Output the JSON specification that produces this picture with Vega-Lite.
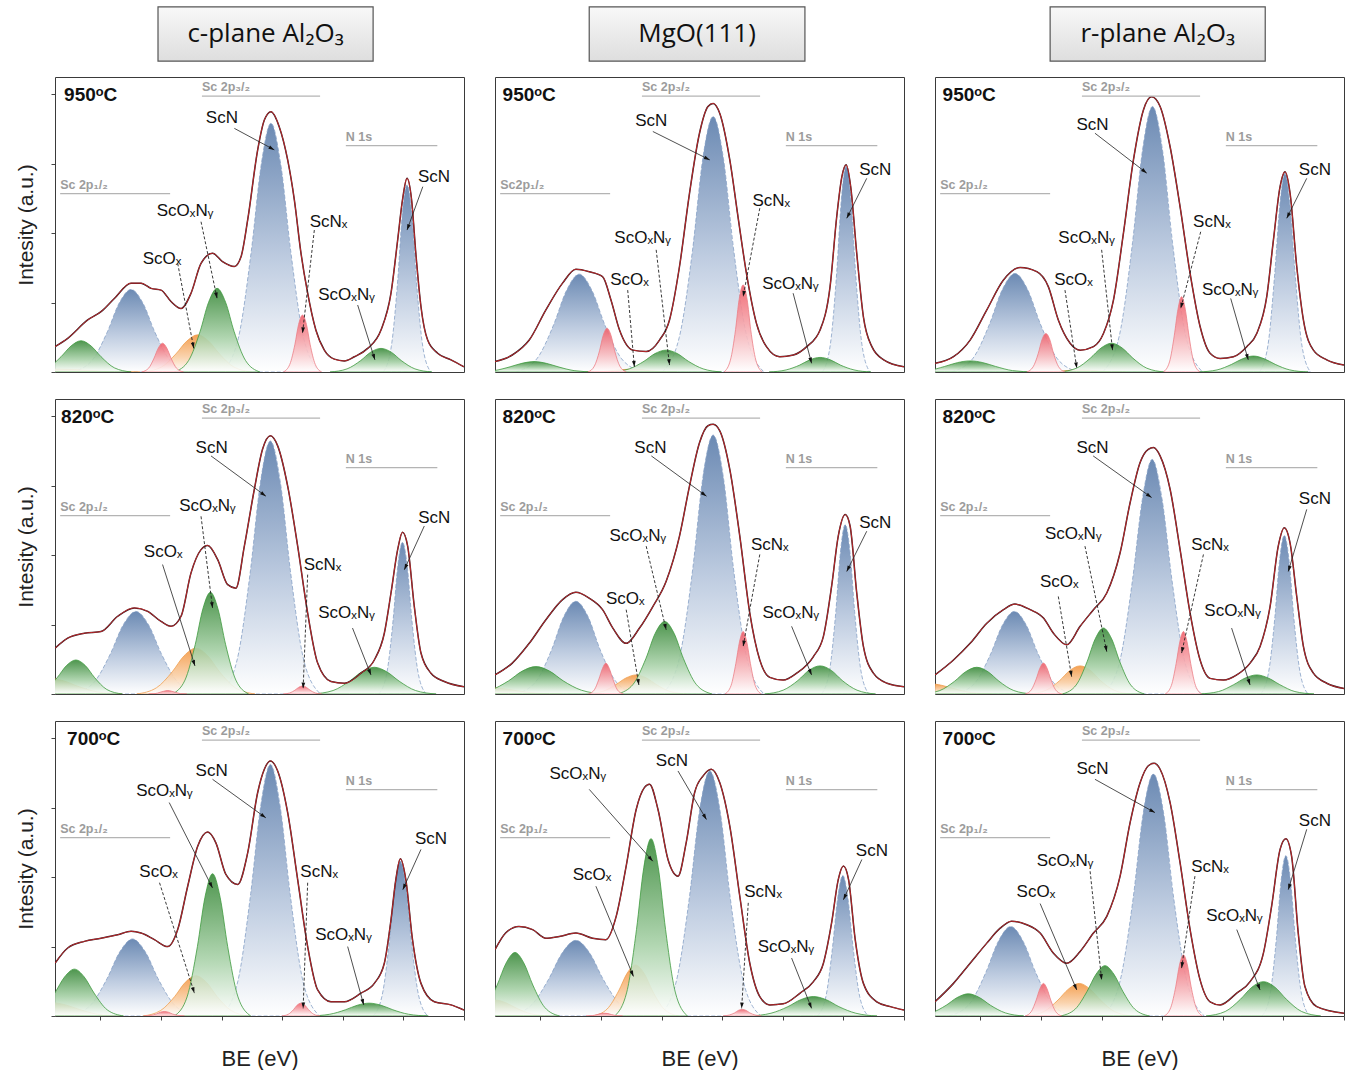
{
"$schema":"https://vega.github.io/schema/vega-lite/v6.json",
"padding":{"left":15,"top":5,"right":2,"bottom":1},
"config":{"view":{"stroke":"#3a3a3a","strokeWidth":1},"axis":{"grid":false,"domain":false,"tickColor":"#444","tickWidth":1,"tickSize":4}},
"data":{"values":[
{"r":1,"c":1,"k":"e","xs":[408,407.58,406.92,406.48,406.04,405.49,405.16,404.83,404.5,404.17,403.84,403.51,403.18,402.8,402.47,402.08,401.86,401.64,401.31,401.09,400.87,400.6,400.32,400.1,399.88,399.66,399.39,399.11,398.78,398.45,398.12,397.68,397.24,396.91,396.69,396.53,396.38,396.23,396.09,395.92,395.7,395.37,394.93,394.5],"ys":[0.73,0.97,1.5,1.74,2.12,2.56,2.56,2.41,2.36,2.03,1.83,2.27,3.13,3.42,3.18,3.04,3.32,4.38,6.4,7.26,7.5,7.07,6.11,4.96,3.42,2.27,1.21,0.63,0.37,0.32,0.44,0.68,1.21,2.27,3.8,4.96,5.58,4.96,3.42,1.88,0.92,0.54,0.35,0.15]},
{"r":1,"c":2,"k":"e","xs":[408,407.43,406.87,406.32,405.77,405.33,404.89,404.45,404.17,403.89,403.45,403.01,402.57,402.24,401.91,401.58,401.25,400.97,400.8,400.58,400.25,399.98,399.7,399.37,399.04,398.6,398.15,397.71,397.27,396.94,396.72,396.55,396.41,396.26,396.06,395.84,395.56,395.17,394.5],"ys":[0.3,0.49,0.92,1.79,2.56,2.96,2.89,2.75,2.07,1.21,0.63,0.59,0.92,1.5,3.04,5.15,6.88,7.65,7.74,7.45,6.11,4.48,2.84,1.4,0.73,0.44,0.49,0.73,1.21,2.46,4.48,5.63,5.97,5.34,3.42,1.59,0.73,0.35,0.15]},
{"r":1,"c":3,"k":"e","xs":[408,407.39,406.84,406.29,405.74,405.19,404.64,404.26,403.93,403.54,403.21,402.77,402.44,402.11,401.78,401.45,401.12,400.85,400.57,400.24,399.91,399.58,399.25,398.92,398.59,398.15,397.71,397.38,397.05,396.83,396.61,396.45,396.28,396.06,395.84,395.51,395.07,394.5],"ys":[0.25,0.44,0.92,1.79,2.65,3.01,2.89,2.46,1.5,0.83,0.63,0.73,1.11,2.07,4.0,6.11,7.55,7.93,7.65,6.49,4.76,2.84,1.31,0.54,0.39,0.44,0.73,1.11,2.17,3.8,5.34,5.77,5.15,3.04,1.5,0.63,0.35,0.2]},
{"r":2,"c":1,"k":"e","xs":[408,407.58,407.03,406.48,405.93,405.38,404.94,404.5,404.17,403.84,403.51,403.18,402.96,402.63,402.3,402.03,401.75,401.42,401.15,400.89,400.65,400.32,399.99,399.66,399.33,398.89,398.45,397.9,397.46,397.13,396.91,396.69,396.53,396.36,396.14,395.92,395.59,395.15,394.5],"ys":[1.32,1.61,1.75,1.8,2.24,2.48,2.38,2.09,1.95,2.24,3.49,4.16,4.28,3.87,3.15,3.05,4.26,5.9,7.05,7.44,7.15,5.99,4.26,2.33,0.89,0.36,0.31,0.6,0.98,1.75,2.91,4.16,4.66,4.26,2.52,1.18,0.6,0.36,0.21]},
{"r":2,"c":2,"k":"e","xs":[408,407.43,406.87,406.32,405.77,405.33,404.89,404.45,404.11,403.67,403.23,402.79,402.35,401.91,401.58,401.25,400.97,400.8,400.58,400.25,399.92,399.59,399.26,398.93,398.49,398.04,397.49,397.16,396.89,396.67,396.44,396.28,396.06,395.84,395.51,395.06,394.5],"ys":[0.55,0.89,1.46,2.14,2.72,2.93,2.76,2.43,1.9,1.46,1.9,2.52,3.25,4.55,5.99,7.24,7.73,7.77,7.58,6.47,4.55,2.33,0.98,0.48,0.4,0.6,1.08,1.66,3.1,4.55,5.17,4.84,2.91,1.37,0.6,0.31,0.21]},
{"r":2,"c":3,"k":"e","xs":[408,407.39,406.84,406.29,405.74,405.36,404.86,404.42,404.09,403.65,403.21,402.77,402.33,401.89,401.56,401.23,400.96,400.79,400.57,400.24,399.91,399.58,399.25,398.92,398.48,398.04,397.6,397.27,396.94,396.67,396.47,396.28,396.06,395.84,395.51,395.07,394.5],"ys":[0.55,0.98,1.46,2.04,2.43,2.59,2.43,2.19,1.75,1.42,1.95,2.43,2.91,4.07,5.51,6.67,7.05,7.1,6.86,5.9,4.16,2.33,0.98,0.45,0.4,0.55,0.89,1.37,2.52,4.26,4.79,4.35,2.81,1.37,0.6,0.31,0.16]},
{"r":3,"c":1,"k":"e","xs":[408,407.58,407.03,406.48,405.93,405.49,405.16,404.72,404.28,403.95,403.62,403.29,402.96,402.69,402.36,401.97,401.64,401.31,401.09,400.89,400.65,400.32,399.99,399.66,399.33,398.89,398.45,397.9,397.46,397.13,396.91,396.75,396.6,396.42,396.2,395.92,395.48,394.93,394.5],"ys":[1.52,1.96,2.15,2.24,2.34,2.44,2.39,2.2,2.0,2.49,3.74,4.89,5.3,4.99,4.08,3.79,4.7,6.44,7.11,7.35,7.06,5.86,3.93,2.0,0.75,0.41,0.41,0.66,0.94,1.52,2.77,3.93,4.53,3.93,2.2,0.94,0.41,0.32,0.17]},
{"r":3,"c":2,"k":"e","xs":[408,407.65,407.21,406.76,406.32,405.88,405.33,404.78,404.34,404.0,403.67,403.34,403.07,402.9,402.62,402.29,401.96,401.69,401.41,401.13,400.86,400.58,400.25,399.92,399.59,399.26,398.93,398.49,397.93,397.49,397.16,396.89,396.67,396.5,396.33,396.11,395.84,395.4,394.95,394.5],"ys":[1.91,2.39,2.58,2.49,2.24,2.29,2.39,2.24,2.2,2.87,4.32,5.95,6.58,6.68,5.95,4.51,4.03,4.99,6.44,6.92,7.11,6.72,5.47,3.45,1.52,0.56,0.32,0.35,0.66,0.99,1.52,2.68,3.93,4.32,3.93,2.2,0.94,0.41,0.27,0.17]},
{"r":3,"c":3,"k":"e","xs":[408,407.39,406.84,406.29,405.85,405.47,404.97,404.53,404.09,403.65,403.21,402.77,402.33,401.89,401.56,401.23,400.96,400.77,400.57,400.24,399.91,399.58,399.25,398.92,398.59,398.04,397.6,397.16,396.89,396.61,396.42,396.23,396.01,395.79,395.4,394.5],"ys":[0.41,0.94,1.52,2.1,2.53,2.73,2.63,2.39,1.81,1.52,1.86,2.39,2.87,4.03,5.57,6.72,7.21,7.28,7.11,6.15,4.41,2.49,1.04,0.41,0.32,0.66,0.99,1.81,3.16,4.8,5.11,4.61,2.39,0.85,0.27,0.08]},

{"r":1,"c":1,"k":"g","id":"g1","xs":[405.49,406.04,406.48,406.81,407.14,407.47,407.8,408.24,408.79],"ys":[0,0.12,0.44,0.75,0.9,0.75,0.44,0.12,0]},
{"r":1,"c":1,"k":"b","id":"b1","xs":[403.54,404.19,404.71,405.1,405.49,405.88,406.27,406.79,407.44],"ys":[0,0.32,1.16,1.99,2.38,1.99,1.16,0.32,0]},
{"r":1,"c":1,"k":"rd","id":"r1","xs":[403.76,403.99,404.17,404.31,404.45,404.59,404.73,404.91,405.14],"ys":[0,0.11,0.4,0.69,0.83,0.69,0.4,0.11,0]},
{"r":1,"c":1,"k":"o","id":"o1","xs":[405.2,406.1,406.82,407.36,407.9,408.44,408.98,409.7,410.6],"ys":[0,0.01,0.04,0.07,0.08,0.07,0.04,0.01,0]},
{"r":1,"c":1,"k":"o","id":"o2","xs":[401.49,402.09,402.57,402.93,403.29,403.65,404.01,404.49,405.09],"ys":[0,0.14,0.52,0.89,1.07,0.89,0.52,0.14,0]},
{"r":1,"c":1,"k":"g","id":"g2","xs":[401.24,401.71,402.09,402.37,402.65,402.93,403.21,403.59,404.06],"ys":[0,0.33,1.17,2.01,2.41,2.01,1.17,0.33,0]},
{"r":1,"c":1,"k":"b","id":"b2","xs":[399.25,399.79,400.22,400.55,400.87,401.19,401.52,401.95,402.49],"ys":[0,0.97,3.49,5.99,7.17,5.99,3.49,0.97,0]},
{"r":1,"c":1,"k":"rd","id":"r2","xs":[399.2,399.41,399.58,399.7,399.83,399.96,400.08,400.25,400.46],"ys":[0,0.22,0.8,1.37,1.64,1.37,0.8,0.22,0]},
{"r":1,"c":1,"k":"g","id":"g3","xs":[395.56,396.12,396.57,396.9,397.24,397.58,397.91,398.36,398.92],"ys":[0,0.09,0.33,0.57,0.68,0.57,0.33,0.09,0]},
{"r":1,"c":1,"k":"b","id":"b3","xs":[395.6,395.86,396.07,396.22,396.38,396.54,396.69,396.9,397.16],"ys":[0,0.73,2.62,4.5,5.39,4.5,2.62,0.73,0]},

{"r":1,"c":2,"k":"g","id":"g1","xs":[404.73,405.39,405.92,406.31,406.71,407.11,407.5,408.03,408.69],"ys":[0,0.04,0.15,0.25,0.3,0.25,0.15,0.04,0]},
{"r":1,"c":2,"k":"b","id":"b1","xs":[403.12,403.82,404.38,404.8,405.22,405.64,406.06,406.62,407.32],"ys":[0,0.38,1.37,2.35,2.82,2.35,1.37,0.38,0]},
{"r":1,"c":2,"k":"rd","id":"r1","xs":[403.67,403.88,404.05,404.17,404.3,404.43,404.55,404.72,404.93],"ys":[0,0.17,0.61,1.05,1.26,1.05,0.61,0.17,0]},
{"r":1,"c":2,"k":"o","id":"o2","xs":[402,402.5,402.9,403.2,403.5,403.8,404.1,404.5,405],"ys":[0,0.01,0.04,0.07,0.08,0.07,0.04,0.01,0]},
{"r":1,"c":2,"k":"g","id":"g2","xs":[400.52,401.13,401.62,401.98,402.35,402.72,403.08,403.57,404.18],"ys":[0,0.09,0.31,0.53,0.63,0.53,0.31,0.09,0]},
{"r":1,"c":2,"k":"b","id":"b2","xs":[399.12,399.68,400.13,400.46,400.8,401.14,401.47,401.92,402.48],"ys":[0,0.99,3.58,6.15,7.36,6.15,3.58,0.99,0]},
{"r":1,"c":2,"k":"rd","id":"r2","xs":[399.18,399.39,399.56,399.68,399.81,399.94,400.06,400.23,400.44],"ys":[0,0.34,1.22,2.1,2.51,2.1,1.22,0.34,0]},
{"r":1,"c":2,"k":"g","id":"g3","xs":[395.59,396.15,396.6,396.93,397.27,397.61,397.94,398.39,398.95],"ys":[0,0.06,0.2,0.35,0.42,0.35,0.2,0.06,0]},
{"r":1,"c":2,"k":"b","id":"b3","xs":[395.63,395.89,396.1,396.25,396.41,396.57,396.72,396.93,397.19],"ys":[0,0.8,2.88,4.94,5.92,4.94,2.88,0.8,0]},

{"r":1,"c":3,"k":"g","id":"g1","xs":[404.74,405.44,406,406.42,406.84,407.26,407.68,408.24,408.94],"ys":[0,0.04,0.16,0.27,0.32,0.27,0.16,0.04,0]},
{"r":1,"c":3,"k":"b","id":"b1","xs":[403.26,403.96,404.52,404.94,405.36,405.78,406.2,406.76,407.46],"ys":[0,0.38,1.38,2.37,2.84,2.37,1.38,0.38,0]},
{"r":1,"c":3,"k":"rd","id":"r1","xs":[403.71,403.92,404.09,404.21,404.34,404.47,404.59,404.76,404.97],"ys":[0,0.15,0.54,0.93,1.11,0.93,0.54,0.15,0]},
{"r":1,"c":3,"k":"o","id":"o2","xs":[401.7,402.2,402.6,402.9,403.2,403.5,403.8,404.2,404.7],"ys":[0,0.01,0.03,0.05,0.06,0.05,0.03,0.01,0]},
{"r":1,"c":3,"k":"g","id":"g2","xs":[400.43,401.01,401.47,401.82,402.17,402.52,402.87,403.33,403.91],"ys":[0,0.11,0.4,0.69,0.83,0.69,0.4,0.11,0]},
{"r":1,"c":3,"k":"b","id":"b2","xs":[399.17,399.72,400.16,400.49,400.82,401.15,401.48,401.92,402.47],"ys":[0,1.03,3.73,6.39,7.65,6.39,3.73,1.03,0]},
{"r":1,"c":3,"k":"rd","id":"r2","xs":[399.26,399.46,399.62,399.74,399.86,399.98,400.1,400.26,400.46],"ys":[0,0.29,1.06,1.81,2.17,1.81,1.06,0.29,0]},
{"r":1,"c":3,"k":"g","id":"g3","xs":[395.69,396.29,396.77,397.13,397.49,397.85,398.21,398.69,399.29],"ys":[0,0.06,0.22,0.38,0.46,0.38,0.22,0.06,0]},
{"r":1,"c":3,"k":"b","id":"b3","xs":[395.61,395.89,396.11,396.28,396.45,396.62,396.79,397.01,397.29],"ys":[0,0.77,2.79,4.78,5.72,4.78,2.79,0.77,0]},

{"r":2,"c":1,"k":"o","id":"o1","xs":[405.8,406.6,407.24,407.72,408.2,408.68,409.16,409.8,410.6],"ys":[0,0.06,0.22,0.38,0.45,0.38,0.22,0.06,0]},
{"r":2,"c":1,"k":"g","id":"g1","xs":[405.78,406.29,406.7,407,407.31,407.62,407.92,408.33,408.84],"ys":[0,0.13,0.48,0.82,0.98,0.82,0.48,0.13,0]},
{"r":2,"c":1,"k":"b","id":"b1","xs":[403.23,403.93,404.49,404.91,405.33,405.75,406.17,406.73,407.43],"ys":[0,0.32,1.16,1.99,2.38,1.99,1.16,0.32,0]},
{"r":2,"c":1,"k":"rd","id":"r1","xs":[403.65,403.86,404.03,404.15,404.28,404.41,404.53,404.7,404.91],"ys":[0,0.01,0.05,0.08,0.1,0.08,0.05,0.01,0]},
{"r":2,"c":1,"k":"o","id":"o2","xs":[401.4,402.05,402.57,402.96,403.35,403.74,404.13,404.65,405.3],"ys":[0,0.18,0.64,1.1,1.32,1.1,0.64,0.18,0]},
{"r":2,"c":1,"k":"g","id":"g2","xs":[401.61,402.03,402.37,402.62,402.87,403.12,403.37,403.71,404.13],"ys":[0,0.4,1.43,2.45,2.93,2.45,1.43,0.4,0]},
{"r":2,"c":1,"k":"b","id":"b2","xs":[399.24,399.79,400.23,400.56,400.89,401.22,401.55,401.99,402.54],"ys":[0,0.98,3.55,6.09,7.29,6.09,3.55,0.98,0]},
{"r":2,"c":1,"k":"rd","id":"r2","xs":[399.2,399.41,399.58,399.7,399.83,399.96,400.08,400.25,400.46],"ys":[0,0.03,0.11,0.19,0.23,0.19,0.11,0.03,0]},
{"r":2,"c":1,"k":"g","id":"g3","xs":[395.42,396.1,396.64,397.05,397.46,397.87,398.28,398.82,399.5],"ys":[0,0.1,0.37,0.64,0.77,0.64,0.37,0.1,0]},
{"r":2,"c":1,"k":"b","id":"b3","xs":[395.75,396.01,396.22,396.37,396.53,396.69,396.84,397.05,397.31],"ys":[0,0.59,2.13,3.65,4.37,3.65,2.13,0.59,0]},

{"r":2,"c":2,"k":"o","id":"o1","xs":[405.8,406.6,407.24,407.72,408.2,408.68,409.16,409.8,410.6],"ys":[0,0.02,0.09,0.15,0.18,0.15,0.09,0.02,0]},
{"r":2,"c":2,"k":"g","id":"g1","xs":[404.4,405.15,405.75,406.2,406.65,407.1,407.55,408.15,408.9],"ys":[0,0.11,0.38,0.66,0.79,0.66,0.38,0.11,0]},
{"r":2,"c":2,"k":"b","id":"b1","xs":[403.35,404.01,404.54,404.93,405.33,405.73,406.12,406.65,407.31],"ys":[0,0.36,1.3,2.23,2.67,2.23,1.3,0.36,0]},
{"r":2,"c":2,"k":"rd","id":"r1","xs":[403.77,403.96,404.11,404.23,404.34,404.45,404.57,404.72,404.91],"ys":[0,0.12,0.43,0.74,0.89,0.74,0.43,0.12,0]},
{"r":2,"c":2,"k":"o","id":"o2","xs":[401.66,402.22,402.67,403,403.34,403.68,404.01,404.46,405.02],"ys":[0,0.07,0.27,0.46,0.55,0.46,0.27,0.07,0]},
{"r":2,"c":2,"k":"g","id":"g2","xs":[400.84,401.36,401.78,402.09,402.4,402.71,403.02,403.44,403.96],"ys":[0,0.28,1.02,1.75,2.09,1.75,1.02,0.28,0]},
{"r":2,"c":2,"k":"b","id":"b2","xs":[399.12,399.68,400.13,400.46,400.8,401.14,401.47,401.92,402.48],"ys":[0,1.01,3.63,6.23,7.46,6.23,3.63,1.01,0]},
{"r":2,"c":2,"k":"rd","id":"r2","xs":[399.21,399.41,399.57,399.69,399.81,399.93,400.05,400.21,400.41],"ys":[0,0.24,0.88,1.5,1.8,1.5,0.88,0.24,0]},
{"r":2,"c":2,"k":"g","id":"g3","xs":[395.44,396.05,396.54,396.9,397.27,397.64,398,398.49,399.1],"ys":[0,0.11,0.39,0.68,0.81,0.68,0.39,0.11,0]},
{"r":2,"c":2,"k":"b","id":"b3","xs":[395.66,395.92,396.13,396.28,396.44,396.6,396.75,396.96,397.22],"ys":[0,0.66,2.38,4.07,4.88,4.07,2.38,0.66,0]},

{"r":2,"c":3,"k":"o","id":"o1","xs":[406.1,406.8,407.36,407.78,408.2,408.62,409.04,409.6,410.3],"ys":[0,0.04,0.15,0.25,0.3,0.25,0.15,0.04,0]},
{"r":2,"c":3,"k":"g","id":"g1","xs":[404.79,405.4,405.89,406.25,406.62,406.99,407.35,407.84,408.45],"ys":[0,0.1,0.37,0.64,0.77,0.64,0.37,0.1,0]},
{"r":2,"c":3,"k":"b","id":"b1","xs":[403.43,404.08,404.6,404.99,405.38,405.77,406.16,406.68,407.33],"ys":[0,0.32,1.16,1.99,2.38,1.99,1.16,0.32,0]},
{"r":2,"c":3,"k":"rd","id":"r1","xs":[403.82,404.02,404.18,404.3,404.42,404.54,404.66,404.82,405.02],"ys":[0,0.12,0.43,0.74,0.89,0.74,0.43,0.12,0]},
{"r":2,"c":3,"k":"o","id":"o2","xs":[401.53,402.09,402.54,402.87,403.21,403.55,403.88,404.33,404.89],"ys":[0,0.11,0.39,0.68,0.81,0.68,0.39,0.11,0]},
{"r":2,"c":3,"k":"g","id":"g2","xs":[401.09,401.54,401.9,402.17,402.44,402.71,402.98,403.34,403.79],"ys":[0,0.26,0.93,1.59,1.9,1.59,0.93,0.26,0]},
{"r":2,"c":3,"k":"b","id":"b2","xs":[399.21,399.75,400.18,400.51,400.83,401.15,401.48,401.91,402.45],"ys":[0,0.91,3.29,5.64,6.76,5.64,3.29,0.91,0]},
{"r":2,"c":3,"k":"rd","id":"r2","xs":[399.2,399.4,399.56,399.68,399.8,399.92,400.04,400.2,400.4],"ys":[0,0.24,0.88,1.5,1.8,1.5,0.88,0.24,0]},
{"r":2,"c":3,"k":"g","id":"g3","xs":[395.49,396.12,396.62,397,397.38,397.76,398.14,398.64,399.27],"ys":[0,0.07,0.27,0.46,0.55,0.46,0.27,0.07,0]},
{"r":2,"c":3,"k":"b","id":"b3","xs":[395.69,395.95,396.16,396.31,396.47,396.63,396.78,396.99,397.25],"ys":[0,0.62,2.23,3.82,4.57,3.82,2.23,0.62,0]},

{"r":3,"c":1,"k":"o","id":"o1","xs":[405.85,406.6,407.2,407.65,408.1,408.55,409,409.6,410.35],"ys":[0,0.05,0.19,0.32,0.38,0.32,0.19,0.05,0]},
{"r":3,"c":1,"k":"g","id":"g1","xs":[405.74,406.28,406.71,407.04,407.36,407.68,408.01,408.44,408.98],"ys":[0,0.18,0.66,1.13,1.35,1.13,0.66,0.18,0]},
{"r":3,"c":1,"k":"b","id":"b1","xs":[403.34,404.04,404.6,405.02,405.44,405.86,406.28,406.84,407.54],"ys":[0,0.3,1.08,1.85,2.22,1.85,1.08,0.3,0]},
{"r":3,"c":1,"k":"rd","id":"r1","xs":[403.73,403.95,404.13,404.26,404.39,404.52,404.65,404.83,405.05],"ys":[0,0.02,0.06,0.11,0.13,0.11,0.06,0.02,0]},
{"r":3,"c":1,"k":"o","id":"o2","xs":[401.61,402.19,402.65,403,403.35,403.7,404.05,404.51,405.09],"ys":[0,0.16,0.56,0.97,1.16,0.97,0.56,0.16,0]},
{"r":3,"c":1,"k":"g","id":"g2","xs":[401.54,401.96,402.3,402.55,402.8,403.05,403.3,403.64,404.06],"ys":[0,0.55,2,3.42,4.1,3.42,2,0.55,0]},
{"r":3,"c":1,"k":"b","id":"b2","xs":[399.27,399.81,400.24,400.57,400.89,401.21,401.54,401.97,402.51],"ys":[0,0.98,3.53,6.05,7.25,6.05,3.53,0.98,0]},
{"r":3,"c":1,"k":"rd","id":"r2","xs":[399.25,399.46,399.63,399.75,399.88,400.01,400.13,400.3,400.51],"ys":[0,0.05,0.18,0.31,0.37,0.31,0.18,0.05,0]},
{"r":3,"c":1,"k":"g","id":"g3","xs":[395.68,396.33,396.85,397.24,397.63,398.02,398.41,398.93,399.58],"ys":[0,0.05,0.18,0.31,0.37,0.31,0.18,0.05,0]},
{"r":3,"c":1,"k":"b","id":"b3","xs":[395.7,396,396.24,396.42,396.6,396.78,396.96,397.2,397.5],"ys":[0,0.6,2.17,3.72,4.46,3.72,2.17,0.6,0]},

{"r":3,"c":2,"k":"o","id":"o1","xs":[406.2,406.8,407.28,407.64,408,408.36,408.72,409.2,409.8],"ys":[0,0.06,0.22,0.38,0.46,0.38,0.22,0.06,0]},
{"r":3,"c":2,"k":"g","id":"g1","xs":[405.87,406.36,406.75,407.05,407.34,407.63,407.93,408.32,408.81],"ys":[0,0.25,0.89,1.53,1.83,1.53,0.89,0.25,0]},
{"r":3,"c":2,"k":"b","id":"b1","xs":[403.08,403.83,404.43,404.88,405.33,405.78,406.23,406.83,407.58],"ys":[0,0.29,1.06,1.82,2.18,1.82,1.06,0.29,0]},
{"r":3,"c":2,"k":"rd","id":"r1","xs":[403.79,403.99,404.15,404.27,404.39,404.51,404.63,404.79,404.99],"ys":[0,0.01,0.04,0.07,0.08,0.07,0.04,0.01,0]},
{"r":3,"c":2,"k":"o","id":"o2","xs":[401.95,402.42,402.8,403.08,403.36,403.64,403.92,404.3,404.77],"ys":[0,0.2,0.72,1.23,1.47,1.23,0.72,0.2,0]},
{"r":3,"c":2,"k":"g","id":"g2","xs":[401.65,402.05,402.37,402.61,402.85,403.09,403.33,403.65,404.05],"ys":[0,0.69,2.49,4.27,5.11,4.27,2.49,0.69,0]},
{"r":3,"c":2,"k":"b","id":"b2","xs":[399.23,399.79,400.24,400.57,400.91,401.25,401.58,402.03,402.59],"ys":[0,0.95,3.44,5.9,7.06,5.9,3.44,0.95,0]},
{"r":3,"c":2,"k":"rd","id":"r2","xs":[399.21,399.42,399.59,399.71,399.84,399.97,400.09,400.26,400.47],"ys":[0,0.03,0.09,0.16,0.19,0.16,0.09,0.03,0]},
{"r":3,"c":2,"k":"g","id":"g3","xs":[395.39,396.09,396.65,397.07,397.49,397.91,398.33,398.89,399.59],"ys":[0,0.08,0.27,0.47,0.56,0.47,0.27,0.08,0]},
{"r":3,"c":2,"k":"b","id":"b3","xs":[395.68,395.96,396.18,396.35,396.52,396.69,396.86,397.08,397.36],"ys":[0,0.55,1.97,3.38,4.05,3.38,1.97,0.55,0]},

{"r":3,"c":3,"k":"g","id":"g1","xs":[405.07,405.68,406.17,406.53,406.9,407.27,407.63,408.12,408.73],"ys":[0,0.09,0.31,0.53,0.64,0.53,0.31,0.09,0]},
{"r":3,"c":3,"k":"b","id":"b1","xs":[403.46,404.14,404.68,405.09,405.5,405.91,406.32,406.86,407.54],"ys":[0,0.35,1.26,2.15,2.58,2.15,1.26,0.35,0]},
{"r":3,"c":3,"k":"rd","id":"r1","xs":[403.82,404.02,404.18,404.3,404.42,404.54,404.66,404.82,405.02],"ys":[0,0.13,0.46,0.78,0.94,0.78,0.46,0.13,0]},
{"r":3,"c":3,"k":"o","id":"o2","xs":[401.5,402.08,402.54,402.89,403.24,403.59,403.94,404.4,404.98],"ys":[0,0.13,0.46,0.78,0.94,0.78,0.46,0.13,0]},
{"r":3,"c":3,"k":"g","id":"g2","xs":[400.92,401.41,401.8,402.1,402.39,402.68,402.98,403.37,403.86],"ys":[0,0.2,0.71,1.21,1.45,1.21,0.71,0.2,0]},
{"r":3,"c":3,"k":"b","id":"b2","xs":[399.11,399.67,400.12,400.45,400.79,401.13,401.46,401.91,402.47],"ys":[0,0.94,3.39,5.82,6.97,5.82,3.39,0.94,0]},
{"r":3,"c":3,"k":"rd","id":"r2","xs":[399.17,399.38,399.55,399.67,399.8,399.93,400.05,400.22,400.43],"ys":[0,0.24,0.86,1.47,1.76,1.47,0.86,0.24,0]},
{"r":3,"c":3,"k":"g","id":"g3","xs":[395.27,395.9,396.4,396.78,397.16,397.54,397.92,398.42,399.05],"ys":[0,0.13,0.48,0.83,0.99,0.83,0.48,0.13,0]},
{"r":3,"c":3,"k":"b","id":"b3","xs":[395.64,395.9,396.11,396.26,396.42,396.58,396.73,396.94,397.2],"ys":[0,0.62,2.25,3.86,4.62,3.86,2.25,0.62,0]},

{"r":1,"c":1,"k":"br","x":403.15,"x2":399.25,"y":7.95,"t":"Sc 2p₃/₂"},{"r":1,"c":1,"k":"br","x":398.4,"x2":395.38,"y":6.52,"t":"N 1s"},{"r":1,"c":1,"k":"br","x":407.83,"x2":404.2,"y":5.14,"t":"Sc 2p₁/₂"},
{"r":1,"c":2,"k":"br","x":403.15,"x2":399.25,"y":7.95,"t":"Sc 2p₃/₂"},{"r":1,"c":2,"k":"br","x":398.4,"x2":395.38,"y":6.52,"t":"N 1s"},{"r":1,"c":2,"k":"br","x":407.83,"x2":404.2,"y":5.14,"t":"Sc2p₁/₂"},
{"r":1,"c":3,"k":"br","x":403.15,"x2":399.25,"y":7.95,"t":"Sc 2p₃/₂"},{"r":1,"c":3,"k":"br","x":398.4,"x2":395.38,"y":6.52,"t":"N 1s"},{"r":1,"c":3,"k":"br","x":407.83,"x2":404.2,"y":5.14,"t":"Sc 2p₁/₂"},
{"r":2,"c":1,"k":"br","x":403.15,"x2":399.25,"y":7.95,"t":"Sc 2p₃/₂"},{"r":2,"c":1,"k":"br","x":398.4,"x2":395.38,"y":6.52,"t":"N 1s"},{"r":2,"c":1,"k":"br","x":407.83,"x2":404.2,"y":5.14,"t":"Sc 2p₁/₂"},
{"r":2,"c":2,"k":"br","x":403.15,"x2":399.25,"y":7.95,"t":"Sc 2p₃/₂"},{"r":2,"c":2,"k":"br","x":398.4,"x2":395.38,"y":6.52,"t":"N 1s"},{"r":2,"c":2,"k":"br","x":407.83,"x2":404.2,"y":5.14,"t":"Sc 2p₁/₂"},
{"r":2,"c":3,"k":"br","x":403.15,"x2":399.25,"y":7.95,"t":"Sc 2p₃/₂"},{"r":2,"c":3,"k":"br","x":398.4,"x2":395.38,"y":6.52,"t":"N 1s"},{"r":2,"c":3,"k":"br","x":407.83,"x2":404.2,"y":5.14,"t":"Sc 2p₁/₂"},
{"r":3,"c":1,"k":"br","x":403.15,"x2":399.25,"y":7.95,"t":"Sc 2p₃/₂"},{"r":3,"c":1,"k":"br","x":398.4,"x2":395.38,"y":6.52,"t":"N 1s"},{"r":3,"c":1,"k":"br","x":407.83,"x2":404.2,"y":5.14,"t":"Sc 2p₁/₂"},
{"r":3,"c":2,"k":"br","x":403.15,"x2":399.25,"y":7.95,"t":"Sc 2p₃/₂"},{"r":3,"c":2,"k":"br","x":398.4,"x2":395.38,"y":6.52,"t":"N 1s"},{"r":3,"c":2,"k":"br","x":407.83,"x2":404.2,"y":5.14,"t":"Sc 2p₁/₂"},
{"r":3,"c":3,"k":"br","x":403.15,"x2":399.25,"y":7.95,"t":"Sc 2p₃/₂"},{"r":3,"c":3,"k":"br","x":398.4,"x2":395.38,"y":6.52,"t":"N 1s"},{"r":3,"c":3,"k":"br","x":407.83,"x2":404.2,"y":5.14,"t":"Sc 2p₁/₂"},

{"r":1,"c":1,"k":"tp","x":407.7,"y":7.97,"t":"950ᵒC"},{"r":1,"c":2,"k":"tp","x":407.75,"y":7.97,"t":"950ᵒC"},{"r":1,"c":3,"k":"tp","x":407.75,"y":7.97,"t":"950ᵒC"},
{"r":2,"c":1,"k":"tp","x":407.8,"y":7.97,"t":"820ᵒC"},{"r":2,"c":2,"k":"tp","x":407.75,"y":7.97,"t":"820ᵒC"},{"r":2,"c":3,"k":"tp","x":407.75,"y":7.97,"t":"820ᵒC"},
{"r":3,"c":1,"k":"tp","x":407.6,"y":7.97,"t":"700ᵒC"},{"r":3,"c":2,"k":"tp","x":407.75,"y":7.97,"t":"700ᵒC"},{"r":3,"c":3,"k":"tp","x":407.75,"y":7.97,"t":"700ᵒC"},

{"r":1,"c":1,"k":"lb","t":"ScN","x":402.49,"y":7.31,"ax":402.08,"ay":7.02,"bx":400.76,"by":6.4,"d":0},
{"r":1,"c":1,"k":"lb","t":"ScOₓNᵧ","x":403.71,"y":4.63,"ax":403.18,"ay":4.33,"bx":402.65,"by":2.12,"d":1},
{"r":1,"c":1,"k":"lb","t":"ScOₓ","x":404.47,"y":3.27,"ax":403.95,"ay":3.13,"bx":403.42,"by":0.68,"d":1},
{"r":1,"c":1,"k":"lb","t":"ScNₓ","x":398.97,"y":4.31,"ax":399.44,"ay":4.09,"bx":399.83,"by":1.12,"d":1},
{"r":1,"c":1,"k":"lb","t":"ScOₓNᵧ","x":398.38,"y":2.22,"ax":398.01,"ay":1.93,"bx":397.44,"by":0.35,"d":0},
{"r":1,"c":1,"k":"lb","t":"ScN","x":395.49,"y":5.63,"ax":395.86,"ay":5.34,"bx":396.38,"by":4.09,"d":0},
{"r":1,"c":2,"k":"lb","t":"ScN","x":402.84,"y":7.22,"ax":402.79,"ay":6.93,"bx":400.91,"by":6.11,"d":0},
{"r":1,"c":2,"k":"lb","t":"ScOₓNᵧ","x":403.13,"y":3.85,"ax":402.68,"ay":3.52,"bx":402.24,"by":0.2,"d":1},
{"r":1,"c":2,"k":"lb","t":"ScOₓ","x":403.56,"y":2.64,"ax":403.62,"ay":2.36,"bx":403.4,"by":0.15,"d":1},
{"r":1,"c":2,"k":"lb","t":"ScNₓ","x":398.88,"y":4.94,"ax":399.26,"ay":4.72,"bx":399.81,"by":2.17,"d":1},
{"r":1,"c":2,"k":"lb","t":"ScOₓNᵧ","x":398.25,"y":2.55,"ax":398.16,"ay":2.27,"bx":397.55,"by":0.25,"d":0},
{"r":1,"c":2,"k":"lb","t":"ScN","x":395.45,"y":5.82,"ax":395.73,"ay":5.58,"bx":396.39,"by":4.43,"d":0},
{"r":1,"c":3,"k":"lb","t":"ScN","x":402.8,"y":7.12,"ax":402.72,"ay":6.88,"bx":401.01,"by":5.73,"d":0},
{"r":1,"c":3,"k":"lb","t":"ScOₓNᵧ","x":403.0,"y":3.85,"ax":402.5,"ay":3.52,"bx":402.14,"by":0.63,"d":1},
{"r":1,"c":3,"k":"lb","t":"ScOₓ","x":403.43,"y":2.64,"ax":403.71,"ay":2.36,"bx":403.32,"by":0.11,"d":1},
{"r":1,"c":3,"k":"lb","t":"ScNₓ","x":398.86,"y":4.31,"ax":399.23,"ay":4.04,"bx":399.89,"by":1.83,"d":1},
{"r":1,"c":3,"k":"lb","t":"ScOₓNᵧ","x":398.26,"y":2.36,"ax":398.24,"ay":2.12,"bx":397.66,"by":0.35,"d":0},
{"r":1,"c":3,"k":"lb","t":"ScN","x":395.46,"y":5.82,"ax":395.73,"ay":5.58,"bx":396.39,"by":4.43,"d":0},
{"r":2,"c":1,"k":"lb","t":"ScN","x":402.83,"y":7.1,"ax":402.85,"ay":6.86,"bx":401.04,"by":5.7,"d":0},
{"r":2,"c":1,"k":"lb","t":"ScOₓNᵧ","x":402.97,"y":5.42,"ax":403.18,"ay":5.12,"bx":402.8,"by":2.48,"d":1},
{"r":2,"c":1,"k":"lb","t":"ScOₓ","x":404.43,"y":4.09,"ax":404.45,"ay":3.73,"bx":403.38,"by":0.81,"d":0},
{"r":2,"c":1,"k":"lb","t":"ScNₓ","x":399.17,"y":3.71,"ax":399.66,"ay":3.44,"bx":399.81,"by":0.16,"d":1},
{"r":2,"c":1,"k":"lb","t":"ScOₓNᵧ","x":398.38,"y":2.33,"ax":398.18,"ay":1.9,"bx":397.57,"by":0.55,"d":0},
{"r":2,"c":1,"k":"lb","t":"ScN","x":395.48,"y":5.08,"ax":395.81,"ay":4.84,"bx":396.47,"by":3.58,"d":0},
{"r":2,"c":2,"k":"lb","t":"ScN","x":402.87,"y":7.1,"ax":402.84,"ay":6.86,"bx":401.02,"by":5.7,"d":0},
{"r":2,"c":2,"k":"lb","t":"ScOₓNᵧ","x":403.29,"y":4.55,"ax":403.01,"ay":4.26,"bx":402.35,"by":1.85,"d":1},
{"r":2,"c":2,"k":"lb","t":"ScOₓ","x":403.7,"y":2.75,"ax":403.67,"ay":2.43,"bx":403.25,"by":0.26,"d":1},
{"r":2,"c":2,"k":"lb","t":"ScNₓ","x":398.93,"y":4.29,"ax":399.26,"ay":4.02,"bx":399.81,"by":1.37,"d":1},
{"r":2,"c":2,"k":"lb","t":"ScOₓNᵧ","x":398.24,"y":2.33,"ax":398.21,"ay":1.95,"bx":397.55,"by":0.55,"d":0},
{"r":2,"c":2,"k":"lb","t":"ScN","x":395.45,"y":4.93,"ax":395.73,"ay":4.69,"bx":396.39,"by":3.53,"d":0},
{"r":2,"c":3,"k":"lb","t":"ScN","x":402.8,"y":7.1,"ax":402.78,"ay":6.86,"bx":400.85,"by":5.66,"d":0},
{"r":2,"c":3,"k":"lb","t":"ScOₓNᵧ","x":403.44,"y":4.6,"ax":403.05,"ay":4.26,"bx":402.33,"by":1.22,"d":1},
{"r":2,"c":3,"k":"lb","t":"ScOₓ","x":403.9,"y":3.22,"ax":403.93,"ay":2.81,"bx":403.49,"by":0.5,"d":1},
{"r":2,"c":3,"k":"lb","t":"ScNₓ","x":398.92,"y":4.28,"ax":399.14,"ay":4.02,"bx":399.86,"by":1.18,"d":1},
{"r":2,"c":3,"k":"lb","t":"ScOₓNᵧ","x":398.18,"y":2.38,"ax":398.21,"ay":1.9,"bx":397.6,"by":0.26,"d":0},
{"r":2,"c":3,"k":"lb","t":"ScN","x":395.46,"y":5.61,"ax":395.73,"ay":5.32,"bx":396.34,"by":3.53,"d":0},
{"r":3,"c":1,"k":"lb","t":"ScN","x":402.83,"y":7.05,"ax":402.8,"ay":6.82,"bx":401.04,"by":5.71,"d":0},
{"r":3,"c":1,"k":"lb","t":"ScOₓNᵧ","x":404.39,"y":6.48,"ax":404.23,"ay":6.15,"bx":402.8,"by":3.69,"d":0},
{"r":3,"c":1,"k":"lb","t":"ScOₓ","x":404.58,"y":4.15,"ax":404.55,"ay":3.84,"bx":403.4,"by":0.66,"d":1},
{"r":3,"c":1,"k":"lb","t":"ScNₓ","x":399.28,"y":4.15,"ax":399.66,"ay":3.84,"bx":399.81,"by":0.22,"d":1},
{"r":3,"c":1,"k":"lb","t":"ScOₓNᵧ","x":398.48,"y":2.34,"ax":398.34,"ay":2.0,"bx":397.81,"by":0.32,"d":0},
{"r":3,"c":1,"k":"lb","t":"ScN","x":395.59,"y":5.09,"ax":395.92,"ay":4.8,"bx":396.52,"by":3.64,"d":0},
{"r":3,"c":2,"k":"lb","t":"ScN","x":402.16,"y":7.35,"ax":401.96,"ay":7.06,"bx":401.02,"by":5.66,"d":0},
{"r":3,"c":2,"k":"lb","t":"ScOₓNᵧ","x":405.27,"y":6.97,"ax":404.89,"ay":6.53,"bx":402.79,"by":4.46,"d":0},
{"r":3,"c":2,"k":"lb","t":"ScOₓ","x":404.8,"y":4.05,"ax":404.67,"ay":3.74,"bx":403.43,"by":1.14,"d":0},
{"r":3,"c":2,"k":"lb","t":"ScNₓ","x":399.15,"y":3.57,"ax":399.64,"ay":3.26,"bx":399.86,"by":0.22,"d":1},
{"r":3,"c":2,"k":"lb","t":"ScOₓNᵧ","x":398.4,"y":2.0,"ax":398.21,"ay":1.67,"bx":397.55,"by":0.22,"d":0},
{"r":3,"c":2,"k":"lb","t":"ScN","x":395.56,"y":4.75,"ax":395.89,"ay":4.51,"bx":396.5,"by":3.35,"d":0},
{"r":3,"c":3,"k":"lb","t":"ScN","x":402.8,"y":7.11,"ax":402.72,"ay":6.82,"bx":400.74,"by":5.86,"d":0},
{"r":3,"c":3,"k":"lb","t":"ScOₓNᵧ","x":403.71,"y":4.46,"ax":402.88,"ay":4.17,"bx":402.5,"by":1.04,"d":1},
{"r":3,"c":3,"k":"lb","t":"ScOₓ","x":404.67,"y":3.56,"ax":404.53,"ay":3.24,"bx":403.32,"by":0.75,"d":0},
{"r":3,"c":3,"k":"lb","t":"ScNₓ","x":398.92,"y":4.29,"ax":399.42,"ay":4.03,"bx":399.86,"by":1.38,"d":1},
{"r":3,"c":3,"k":"lb","t":"ScOₓNᵧ","x":398.12,"y":2.87,"ax":398.04,"ay":2.49,"bx":397.27,"by":0.75,"d":0},
{"r":3,"c":3,"k":"lb","t":"ScN","x":395.46,"y":5.62,"ax":395.73,"ay":5.38,"bx":396.34,"by":3.64,"d":0},

{"r":1,"c":1,"k":"hd","t":"c-plane Al₂O₃","x":404.6,"x2":397.5,"xm":401.05,"y":8.96,"y2":10.52,"ym":9.74},
{"r":1,"c":2,"k":"hd","t":"MgO(111)","x":404.89,"x2":397.77,"xm":401.33,"y":8.96,"y2":10.52,"ym":9.74},
{"r":1,"c":3,"k":"hd","t":"r-plane Al₂O₃","x":404.2,"x2":397.1,"xm":400.65,"y":8.96,"y2":10.52,"ym":9.74}
]},
"facet":{"row":{"field":"r","type":"ordinal","title":null,"header":{"labels":false}},"column":{"field":"c","type":"ordinal","title":null,"header":{"labels":false}}},
"spacing":{"row":27,"column":31},
"bounds":"flush",
"spec":{
"width":409,"height":295,
"layer":[
{"transform":[{"filter":"datum.k==='b'"},{"flatten":["xs","ys"],"as":["x","y"]}],
 "mark":{"type":"area","interpolate":"monotone","clip":true,"fillOpacity":0.92,"fill":{"gradient":"linear","x1":0,"y1":0,"x2":0,"y2":1,"stops":[{"offset":0,"color":"#5f80ad"},{"offset":0.55,"color":"#b9c8de"},{"offset":1,"color":"#ffffff"}]},"stroke":"#86a1c6","strokeWidth":0.8,"strokeDash":[4,2]},
 "encoding":{
  "x":{"field":"x","type":"quantitative","title":"BE (eV)","scale":{"domain":[394.5,408],"reverse":true,"nice":false,"zero":false},"axis":{"values":[394.5,395,395.5,396,396.5,397,397.5,398,398.5,399,399.5,400,400.5,401,401.5,402,402.5,403,403.5,404,404.5,405,405.5,406,406.5,407,407.5,408],"labelExpr":"datum.value % 2 === 0 && datum.value < 408 ? datum.label : ''","labelFontSize":19,"labelFont":"Liberation Sans","labelColor":"#222","labelPadding":4,"labelFlush":false,"labelOverlap":false,"tickSize":4,"titleFontSize":22,"titleFont":"Liberation Sans","titleFontWeight":"normal","titleColor":"#222","titlePadding":5}},
  "y":{"field":"y","type":"quantitative","title":"Intesity (a.u.)","stack":null,"scale":{"domain":[0,8.5],"nice":false,"zero":false},"axis":{"values":[0,0.5,1,1.5,2,2.5,3,3.5,4,4.5,5,5.5,6,6.5,7,7.5,8,8.5],"labels":false,"tickSize":4,"titleFontSize":21,"titleFont":"Liberation Sans","titleFontWeight":"normal","titleColor":"#222","titlePadding":14}},
  "detail":{"field":"id","type":"nominal"}}},
{"transform":[{"filter":"datum.k==='o'"},{"flatten":["xs","ys"],"as":["x","y"]}],
 "mark":{"type":"area","interpolate":"monotone","clip":true,"fillOpacity":0.9,"fill":{"gradient":"linear","x1":0,"y1":0,"x2":0,"y2":1,"stops":[{"offset":0,"color":"#f39640"},{"offset":0.6,"color":"#f9cfa6"},{"offset":1,"color":"#ffffff"}]},"stroke":"#f0a050","strokeWidth":0.8},
 "encoding":{"x":{"field":"x","type":"quantitative","scale":{"domain":[394.5,408],"reverse":true,"nice":false,"zero":false}},"y":{"field":"y","type":"quantitative","stack":null,"scale":{"domain":[0,8.5],"nice":false,"zero":false}},"detail":{"field":"id","type":"nominal"}}},
{"transform":[{"filter":"datum.k==='g'"},{"flatten":["xs","ys"],"as":["x","y"]}],
 "mark":{"type":"area","interpolate":"monotone","clip":true,"fillOpacity":0.9,"fill":{"gradient":"linear","x1":0,"y1":0,"x2":0,"y2":1,"stops":[{"offset":0,"color":"#3b8a3b"},{"offset":0.6,"color":"#a9d2a9"},{"offset":1,"color":"#ffffff"}]},"stroke":"#3f9a3f","strokeWidth":0.8},
 "encoding":{"x":{"field":"x","type":"quantitative","scale":{"domain":[394.5,408],"reverse":true,"nice":false,"zero":false}},"y":{"field":"y","type":"quantitative","stack":null,"scale":{"domain":[0,8.5],"nice":false,"zero":false}},"detail":{"field":"id","type":"nominal"}}},
{"transform":[{"filter":"datum.k==='rd'"},{"flatten":["xs","ys"],"as":["x","y"]}],
 "mark":{"type":"area","interpolate":"monotone","clip":true,"fillOpacity":0.9,"fill":{"gradient":"linear","x1":0,"y1":0,"x2":0,"y2":1,"stops":[{"offset":0,"color":"#ef5e69"},{"offset":0.6,"color":"#f8bcc0"},{"offset":1,"color":"#ffffff"}]},"stroke":"#ec7f86","strokeWidth":0.8},
 "encoding":{"x":{"field":"x","type":"quantitative","scale":{"domain":[394.5,408],"reverse":true,"nice":false,"zero":false}},"y":{"field":"y","type":"quantitative","stack":null,"scale":{"domain":[0,8.5],"nice":false,"zero":false}},"detail":{"field":"id","type":"nominal"}}},
{"transform":[{"filter":"datum.k==='e'"},{"flatten":["xs","ys"],"as":["x","y"]}],
 "mark":{"type":"line","interpolate":"monotone","clip":true,"color":"#2a1a22","strokeWidth":1.5},
 "encoding":{"x":{"field":"x","type":"quantitative","scale":{"domain":[394.5,408],"reverse":true,"nice":false,"zero":false}},"y":{"field":"y","type":"quantitative","scale":{"domain":[0,8.5],"nice":false,"zero":false}}}},
{"transform":[{"filter":"'e'===datum.k"},{"flatten":["xs","ys"],"as":["x","y"]}],
 "mark":{"type":"line","interpolate":"monotone","clip":true,"color":"#e32b2b","strokeWidth":0.8},
 "encoding":{"x":{"field":"x","type":"quantitative","scale":{"domain":[394.5,408],"reverse":true,"nice":false,"zero":false}},"y":{"field":"y","type":"quantitative","scale":{"domain":[0,8.5],"nice":false,"zero":false}}}},
{"transform":[{"filter":"datum.k==='br'"}],
 "mark":{"type":"rule","color":"#b4b4b4","strokeWidth":1.3},
 "encoding":{"x":{"field":"x","type":"quantitative","scale":{"domain":[394.5,408],"reverse":true,"nice":false,"zero":false}},"x2":{"field":"x2"},"y":{"field":"y","type":"quantitative","scale":{"domain":[0,8.5],"nice":false,"zero":false}}}},
{"transform":[{"filter":"'br'===datum.k"}],
 "mark":{"type":"text","align":"left","baseline":"middle","dy":-9,"fontSize":12.5,"fontWeight":"bold","font":"Liberation Sans","color":"#9c9c9c"},
 "encoding":{"x":{"field":"x","type":"quantitative","scale":{"domain":[394.5,408],"reverse":true,"nice":false,"zero":false}},"y":{"field":"y","type":"quantitative","scale":{"domain":[0,8.5],"nice":false,"zero":false}},"text":{"field":"t","type":"nominal"}}},
{"transform":[{"filter":"datum.k==='tp'"}],
 "mark":{"type":"text","align":"left","baseline":"middle","fontSize":19,"fontWeight":"bold","font":"Liberation Sans","color":"#111"},
 "encoding":{"x":{"field":"x","type":"quantitative","scale":{"domain":[394.5,408],"reverse":true,"nice":false,"zero":false}},"y":{"field":"y","type":"quantitative","scale":{"domain":[0,8.5],"nice":false,"zero":false}},"text":{"field":"t","type":"nominal"}}},
{"transform":[{"filter":"datum.k==='lb' && datum.d===0"}],
 "mark":{"type":"rule","color":"#222","strokeWidth":0.8},
 "encoding":{"x":{"field":"ax","type":"quantitative","scale":{"domain":[394.5,408],"reverse":true,"nice":false,"zero":false}},"x2":{"field":"bx"},"y":{"field":"ay","type":"quantitative","scale":{"domain":[0,8.5],"nice":false,"zero":false}},"y2":{"field":"by"}}},
{"transform":[{"filter":"datum.k==='lb' && datum.d===1"}],
 "mark":{"type":"rule","color":"#222","strokeWidth":0.9,"strokeDash":[3,2]},
 "encoding":{"x":{"field":"ax","type":"quantitative","scale":{"domain":[394.5,408],"reverse":true,"nice":false,"zero":false}},"x2":{"field":"bx"},"y":{"field":"ay","type":"quantitative","scale":{"domain":[0,8.5],"nice":false,"zero":false}},"y2":{"field":"by"}}},
{"transform":[{"filter":"'lb'===datum.k"},{"calculate":"atan2(-(datum.bx-datum.ax)*30.3,(datum.by-datum.ay)*34.7)*180/PI","as":"ang"}],
 "mark":{"type":"point","shape":"M0,0L0.7,2.2L-0.7,2.2Z","filled":true,"color":"#111","size":28,"opacity":1,"strokeWidth":0},
 "encoding":{"x":{"field":"bx","type":"quantitative","scale":{"domain":[394.5,408],"reverse":true,"nice":false,"zero":false}},"y":{"field":"by","type":"quantitative","scale":{"domain":[0,8.5],"nice":false,"zero":false}},"angle":{"field":"ang","type":"quantitative","scale":{"domain":[-360,360],"range":[-360,360]}}}},
{"transform":[{"filter":"datum.k==='lb'"}],
 "mark":{"type":"text","align":"center","baseline":"middle","fontSize":17,"font":"Liberation Sans","color":"#111"},
 "encoding":{"x":{"field":"x","type":"quantitative","scale":{"domain":[394.5,408],"reverse":true,"nice":false,"zero":false}},"y":{"field":"y","type":"quantitative","scale":{"domain":[0,8.5],"nice":false,"zero":false}},"text":{"field":"t","type":"nominal"}}},
{"transform":[{"filter":"datum.k==='hd'"}],
 "mark":{"type":"rect","stroke":"#555","strokeWidth":1.2,"fill":{"gradient":"linear","x1":0,"y1":0,"x2":0,"y2":1,"stops":[{"offset":0,"color":"#f8f8f8"},{"offset":1,"color":"#dedede"}]}},
 "encoding":{"x":{"field":"x","type":"quantitative","scale":{"domain":[394.5,408],"reverse":true,"nice":false,"zero":false}},"x2":{"field":"x2"},"y":{"field":"y","type":"quantitative","scale":{"domain":[0,8.5],"nice":false,"zero":false}},"y2":{"field":"y2"}}},
{"transform":[{"filter":"'hd'===datum.k"}],
 "mark":{"type":"text","align":"center","baseline":"middle","fontSize":26,"font":"Open Sans","color":"#111"},
 "encoding":{"x":{"field":"xm","type":"quantitative","scale":{"domain":[394.5,408],"reverse":true,"nice":false,"zero":false}},"y":{"field":"ym","type":"quantitative","scale":{"domain":[0,8.5],"nice":false,"zero":false}},"text":{"field":"t","type":"nominal"}}}
]}
}
